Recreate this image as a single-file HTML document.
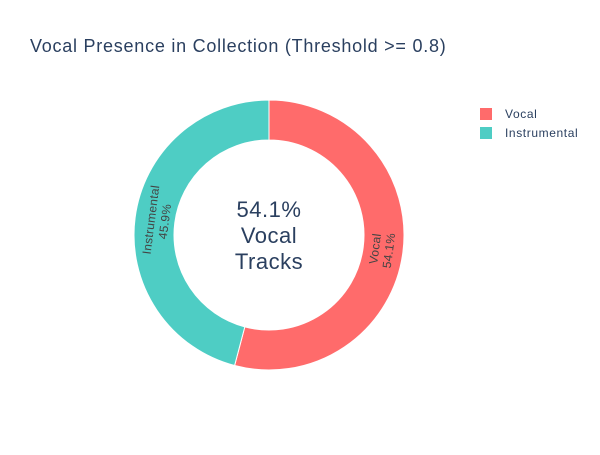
<!DOCTYPE html>
<html><head><meta charset="utf-8"><style>
body{margin:0;background:#fff;font-family:"Liberation Sans",Arial,sans-serif}
svg text{font-family:"Liberation Sans",Arial,sans-serif}
</style></head><body>
<svg id="chart" width="600" height="450">
<text x="30" y="52" font-size="18" letter-spacing="0.75" fill="#2a3f5f">Vocal Presence in Collection (Threshold &gt;= 0.8)</text>
<g id="slices"></g>
<g font-size="22" letter-spacing="0.5" fill="#2a3f5f" text-anchor="middle">
<text x="269" y="217">54.1%</text>
<text x="269" y="243">Vocal</text>
<text x="269" y="269">Tracks</text>
</g>
<g id="legend"></g>
</svg>
<script>
const labels=["Vocal","Instrumental"];
const values=[54.1,45.9];
const colors=["#ff6b6b","#4ecdc4"];
const cx=269,cy=235,R=135,r=95;
const ns="http://www.w3.org/2000/svg";
const total=values.reduce((a,b)=>a+b,0);
const pt=(rad,a)=>[cx+rad*Math.sin(a),cy-rad*Math.cos(a)];
let start=0;
const g=document.getElementById('slices');
values.forEach((v,i)=>{
  const sweep=v/total*2*Math.PI, end=start+sweep, large=sweep>Math.PI?1:0;
  const [x1,y1]=pt(R,start),[x2,y2]=pt(R,end),[x3,y3]=pt(r,end),[x4,y4]=pt(r,start);
  const p=document.createElementNS(ns,'path');
  p.setAttribute('d',`M${x1},${y1}A${R},${R} 0 ${large} 1 ${x2},${y2}L${x3},${y3}A${r},${r} 0 ${large} 0 ${x4},${y4}Z`);
  p.setAttribute('fill',colors[i]);p.setAttribute('stroke','#fff');p.setAttribute('stroke-width','1');
  
  
  g.appendChild(p);
  const mid=start+sweep/2;const [lx,ly]=pt((R+r)/2-2,mid);
  let rot=mid*180/Math.PI-180; while(rot>90)rot-=180; while(rot<-90)rot+=180;
  const t=document.createElementNS(ns,'text');
  t.setAttribute('transform',`translate(${lx},${ly}) rotate(${rot})`);
  t.setAttribute('text-anchor','middle');t.setAttribute('font-size','12');t.setAttribute('letter-spacing','0.3');t.setAttribute('fill','#444');
  
  
  const a=document.createElementNS(ns,'tspan');a.setAttribute('x',0);a.setAttribute('y',-2);a.textContent=labels[i];
  const b=document.createElementNS(ns,'tspan');b.setAttribute('x',0);b.setAttribute('y',12);b.textContent=v.toFixed(1)+'%';
  t.appendChild(a);t.appendChild(b);g.appendChild(t);
  start=end;
});
const lg=document.getElementById('legend');
labels.forEach((l,i)=>{
  const e=document.createElementNS(ns,'g');
  
  
  const y=114+i*19;
  e.innerHTML=`<rect x="480" y="${y-6}" width="12" height="12" fill="${colors[i]}"/><text x="505" y="${y+4}" font-size="12" letter-spacing="0.6" fill="#2a3f5f">${l}</text>`;
  lg.appendChild(e);
});
</script>
</body></html>
